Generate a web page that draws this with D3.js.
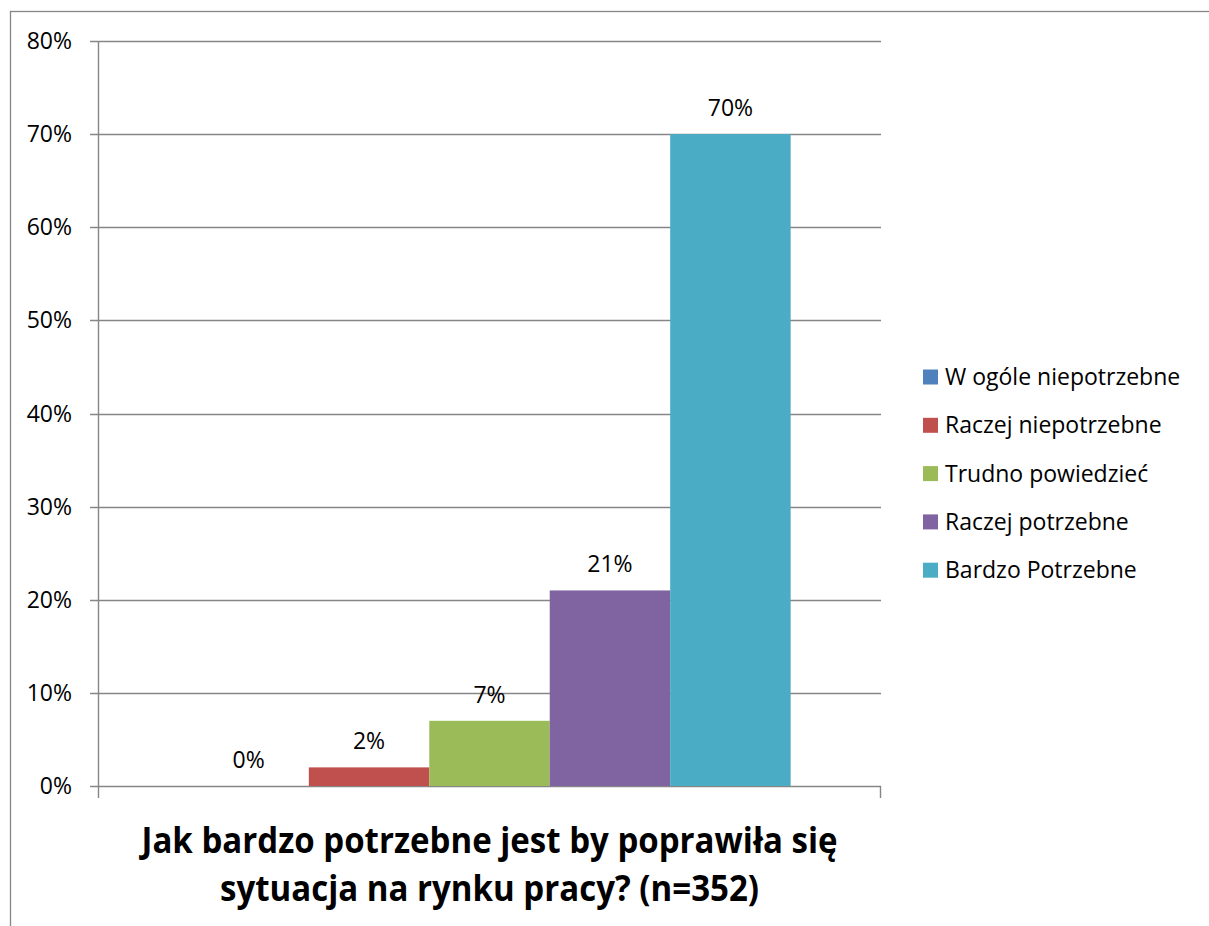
<!DOCTYPE html>
<html>
<head>
<meta charset="utf-8">
<script src="https://cdn.jsdelivr.net/npm/d3@7"></script>
<style>
  html, body { margin: 0; padding: 0; background: #fff; }
  text { font-family: "Open Sans", sans-serif; fill: #000; }
</style>
</head>
<body>
<script>
// survey answers, one category with five series
var seriesNames = ["W ogóle niepotrzebne", "Raczej niepotrzebne", "Trudno powiedzieć", "Raczej potrzebne", "Bardzo Potrzebne"];
var seriesValues = [0, 0.02, 0.07, 0.21, 0.70];
var seriesColors = ["#4F81BD", "#C0504D", "#9BBB59", "#8064A2", "#4BACC6"];
var yTicks = [0, 0.1, 0.2, 0.3, 0.4, 0.5, 0.6, 0.7, 0.8];
var titleLines = ["Jak bardzo potrzebne jest by poprawiła się", "sytuacja na rynku pracy? (n=352)"];

var width = 1209, height = 926;
var plotLeft = 98, plotRight = 881, plotTop = 41, plotBottom = 786;
var gridColor = "#868686";

var svg = d3.select("body").append("svg")
    .attr("width", width)
    .attr("height", height);

// chart area border (runs off the right and bottom edge)
svg.append("rect")
    .attr("x", 10.5)
    .attr("y", 11.5)
    .attr("width", width + 20)
    .attr("height", height + 20)
    .attr("fill", "none")
    .attr("stroke", gridColor)
    .attr("stroke-width", 1.3);

var y = d3.scaleLinear().domain([0, 0.8]).range([plotBottom, plotTop]);
var x = d3.scaleBand()
    .domain(seriesNames)
    .range([plotLeft, plotRight])
    .paddingInner(0)
    .paddingOuter(0.75);

var fmt = d3.format(".0%");

// gridlines and y ticks
var grid = svg.append("g");
grid.selectAll("line.grid")
    .data(yTicks)
  .enter().append("line")
    .attr("class", "grid")
    .attr("x1", plotLeft - 8)
    .attr("x2", plotRight)
    .attr("y1", function (d) { return Math.round(y(d)) + 0.5; })
    .attr("y2", function (d) { return Math.round(y(d)) + 0.5; })
    .attr("stroke", gridColor)
    .attr("stroke-width", 1.4);

grid.selectAll("text.ytick")
    .data(yTicks)
  .enter().append("text")
    .attr("class", "ytick")
    .attr("x", 72)
    .attr("y", function (d) { return y(d); })
    .attr("dy", "0.35em")
    .attr("text-anchor", "end")
    .style("font-size", "23px")
    .text(fmt);

// bars
svg.append("g").selectAll("rect")
    .data(seriesValues)
  .enter().append("rect")
    .attr("x", function (d, i) { return x(seriesNames[i]); })
    .attr("width", x.bandwidth())
    .attr("y", function (d) { return y(d); })
    .attr("height", function (d) { return y(0) - y(d); })
    .attr("fill", function (d, i) { return seriesColors[i]; });

// value labels
svg.append("g").selectAll("text")
    .data(seriesValues)
  .enter().append("text")
    .attr("x", function (d, i) { return x(seriesNames[i]) + x.bandwidth() / 2; })
    .attr("y", function (d) { return y(d) - 26; })
    .attr("dy", "0.35em")
    .attr("text-anchor", "middle")
    .style("font-size", "23px")
    .text(fmt);

// axes lines
svg.append("line")
    .attr("x1", plotLeft + 0.5).attr("x2", plotLeft + 0.5)
    .attr("y1", plotTop).attr("y2", plotBottom + 12)
    .attr("stroke", gridColor).attr("stroke-width", 1.4);
svg.append("line")
    .attr("x1", plotRight - 0.5).attr("x2", plotRight - 0.5)
    .attr("y1", plotBottom).attr("y2", plotBottom + 12)
    .attr("stroke", gridColor).attr("stroke-width", 1.4);

// category title under the axis
var title = svg.append("g");
var titleWidths = [696, 539];
title.selectAll("text")
    .data(titleLines)
  .enter().append("text")
    .attr("x", (plotLeft + plotRight) / 2)
    .attr("y", function (d, i) { return 853 + i * 48; })
    .attr("text-anchor", "middle")
    .attr("textLength", function (d, i) { return titleWidths[i]; })
    .attr("lengthAdjust", "spacingAndGlyphs")
    .style("font-size", "36px")
    .style("font-weight", "bold")
    .text(function (d) { return d; });

// legend
var legend = svg.append("g");
var legendRow = legend.selectAll("g")
    .data(seriesNames)
  .enter().append("g")
    .attr("transform", function (d, i) { return "translate(923," + (377 + i * 48.3) + ")"; });

legendRow.append("rect")
    .attr("x", 0)
    .attr("y", -7.5)
    .attr("width", 15)
    .attr("height", 15)
    .attr("fill", function (d, i) { return seriesColors[i]; });

legendRow.append("text")
    .attr("x", 22)
    .attr("y", 0)
    .attr("dy", "0.35em")
    .style("font-size", "23px")
    .text(function (d) { return d; });
</script>
</body>
</html>
